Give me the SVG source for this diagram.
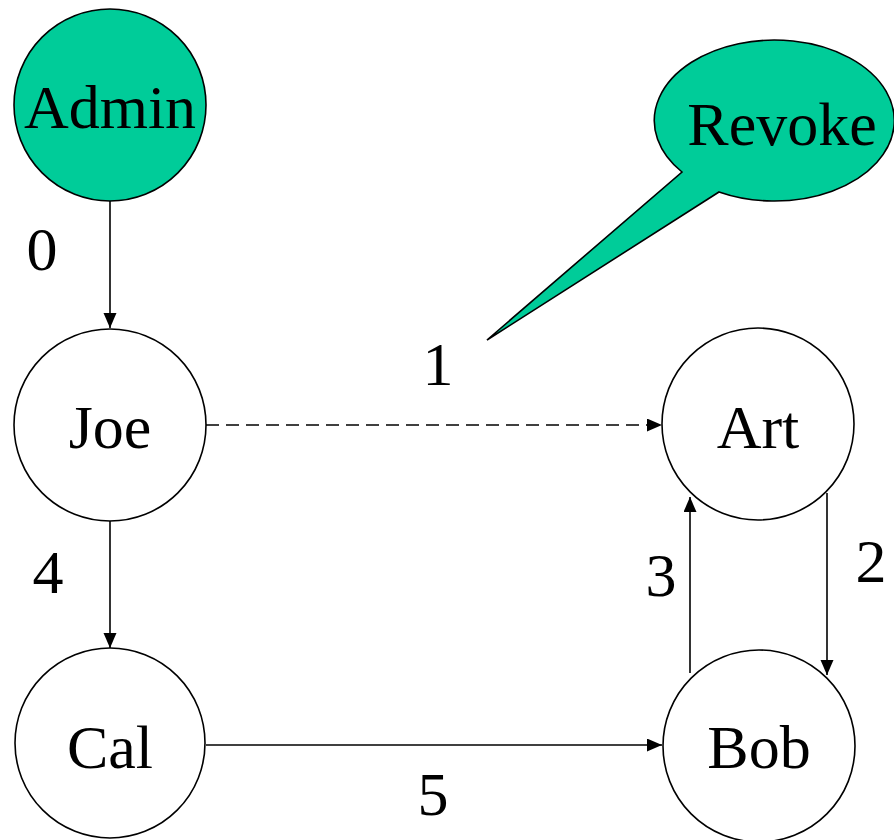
<svg xmlns="http://www.w3.org/2000/svg" width="894" height="840" viewBox="0 0 894 840">
<style>
.node{fill:#fff;stroke:#000;stroke-width:1.6}
.hl{fill:#00cc99;stroke:#000;stroke-width:1.6}
.t{font-family:"Liberation Serif","Times New Roman",serif;font-size:62px;fill:#000;text-anchor:middle}
.e{fill:none;stroke:#000;stroke-width:1.6}
.d{stroke-dasharray:13 7}
</style>
<defs>
<marker id="ah" markerUnits="userSpaceOnUse" markerWidth="16" markerHeight="14" refX="15" refY="6.5" orient="auto">
<path d="M0,0 L15,6.5 L0,13 z" fill="#000"/>
</marker>
</defs>
<g id="callout">
<path class="hl" d="M682,172 A120,80.5 0 1 1 719,192 L487,340 Z"/>
<text class="t" x="782" y="145">Revoke</text>
</g>
<g id="connectors">
<line class="e" x1="110" y1="201" x2="110" y2="328" marker-end="url(#ah)"/>
<line class="e" x1="110" y1="521" x2="110" y2="648" marker-end="url(#ah)"/>
<line class="e d" x1="206" y1="425" x2="662" y2="425" marker-end="url(#ah)"/>
<line class="e" x1="206" y1="745" x2="662" y2="745" marker-end="url(#ah)"/>
<line class="e" x1="827" y1="493" x2="827" y2="675" marker-end="url(#ah)"/>
<line class="e" x1="690" y1="673" x2="690" y2="497" marker-end="url(#ah)"/>
<text class="t" x="42" y="270">0</text>
<text class="t" x="438" y="385">1</text>
<text class="t" x="871" y="582">2</text>
<text class="t" x="661" y="596">3</text>
<text class="t" x="48" y="593">4</text>
<text class="t" x="433" y="815">5</text>
</g>
<g id="admin">
<circle class="hl" cx="110" cy="105" r="96"/>
<text class="t" x="110" y="128">Admin</text>
</g>
<g id="joe">
<circle class="node" cx="110" cy="425" r="96"/>
<text class="t" x="110" y="448">Joe</text>
</g>
<g id="cal">
<circle class="node" cx="110" cy="743" r="95"/>
<text class="t" x="110" y="768">Cal</text>
</g>
<g id="art">
<circle class="node" cx="758" cy="424" r="96"/>
<text class="t" x="758" y="448">Art</text>
</g>
<g id="bob">
<circle class="node" cx="759" cy="746" r="96"/>
<text class="t" x="759" y="768">Bob</text>
</g>
</svg>
